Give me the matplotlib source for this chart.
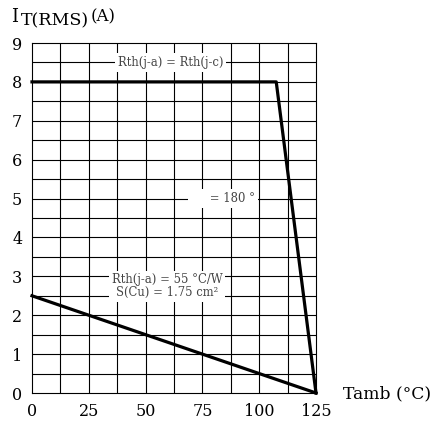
import numpy as np
import matplotlib.pyplot as plt

# derating curves
tamb_jc = [0, 107.5, 125]
irms_jc = [8, 8, 0]
tamb_ja = [0, 125]
irms_ja = [2.5, 0]

x_ticks = [0, 25, 50, 75, 100, 125]
y_ticks = list(range(0, 10))

serif = 'DejaVu Serif'

fig = plt.figure(figsize=(4.34, 4.21), dpi=100)
ax = fig.add_axes([32 / 434, 1 - 393 / 421, 284 / 434, 350 / 421])

ax.set_xlim(0, 125)
ax.set_ylim(0, 9)
# grid every 12.5 degC and every 0.5 A
for gx in np.arange(12.5, 125, 12.5):
    ax.axvline(gx, color='black', lw=0.8, zorder=1)
for gy in np.arange(0.5, 9, 0.5):
    ax.axhline(gy, color='black', lw=0.8, zorder=1)
ax.set_xticks(x_ticks)
ax.set_yticks(y_ticks)
ax.set_xticklabels([str(v) for v in x_ticks], family=serif, fontsize=11.5)
ax.set_yticklabels([str(v) for v in y_ticks], family=serif, fontsize=11.5)
ax.tick_params(which='both', length=0, pad=7)
for s in ax.spines.values():
    s.set_linewidth(0.8)

ax.plot(tamb_jc, irms_jc, color='black', lw=2.3, clip_on=False, zorder=3)
ax.plot(tamb_ja, irms_ja, color='black', lw=2.3, clip_on=False, zorder=3)

box = dict(facecolor='white', edgecolor='none', pad=2)
ax.text(61, 8.5, 'Rth(j-a) = Rth(j-c)', family=serif, fontsize=8.4,
        color='#444444', ha='center', va='center', bbox=box, zorder=4)
ax.text(84, 5, '     = 180 °', family=serif, fontsize=8.4,
        color='#444444', ha='center', va='center', bbox=box, zorder=4)
ax.text(59.5, 2.75, 'Rth(j-a) = 55 °C/W\nS(Cu) = 1.75 cm²', family=serif,
        fontsize=8.4, color='#444444', ha='center', va='center',
        linespacing=0.95, bbox=box, zorder=4)

fig.text(11 / 434, 1 - 17 / 421, 'I', family=serif, fontsize=13,
         va='center', ha='left')
fig.text(21 / 434, 1 - 21 / 421, 'T(RMS)', family=serif, fontsize=12.5,
         va='center', ha='left')
fig.text(91 / 434, 1 - 17 / 421, '(A)', family=serif, fontsize=12,
         va='center', ha='left')
fig.text(343 / 434, 1 - 394 / 421, 'Tamb (°C)', family=serif, fontsize=12.3,
         va='center', ha='left')

plt.savefig('out.png')
